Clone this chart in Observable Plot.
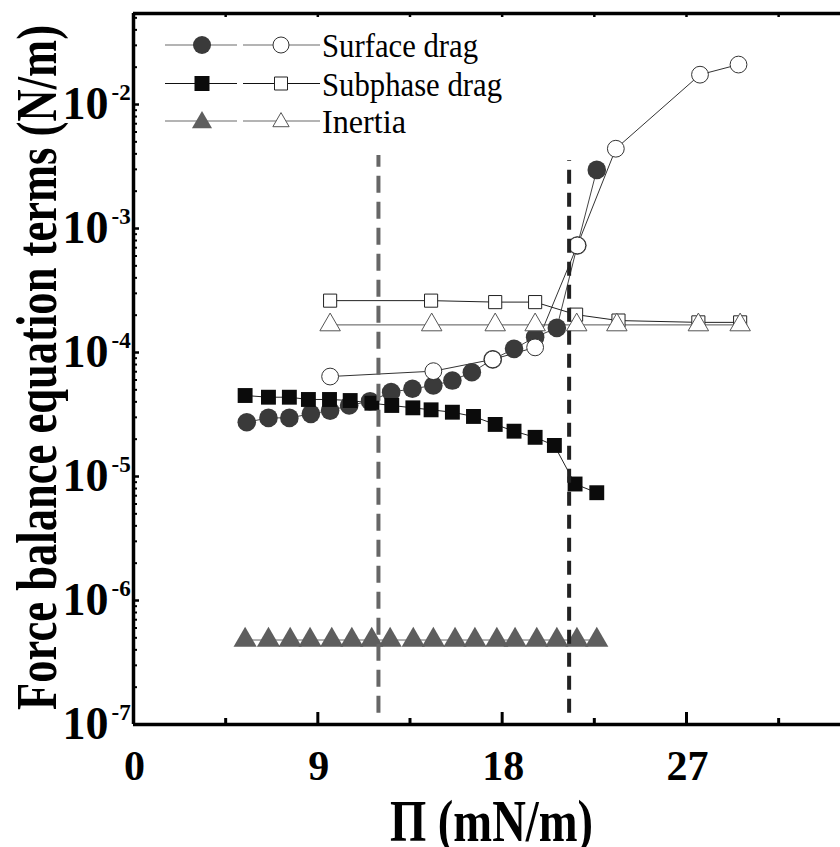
<!DOCTYPE html>
<html><head><meta charset="utf-8">
<script src="https://cdn.jsdelivr.net/npm/d3@7"></script>
<script src="https://cdn.jsdelivr.net/npm/@observablehq/plot@0.6"></script>
<style>
html,body{margin:0;padding:0;background:#fff;overflow:hidden}
#chart svg{display:block;background:#fff}
</style></head><body><div id="chart"></div>
<script>
// ---------- data ----------
const surfaceX      = [5.53,6.59,7.61,8.66,9.6,10.53,11.55,12.58,13.62,14.64,15.57,16.52,17.54,18.58,19.61,20.67,21.67,22.62];
const surfaceFilled = [2.74e-5,2.97e-5,2.97e-5,3.2e-5,3.4e-5,3.74e-5,4.05e-5,4.79e-5,5.1e-5,5.42e-5,5.94e-5,6.93e-5,8.8e-5,1.07e-4,1.33e-4,1.58e-4,7.3e-4,2.97e-3];
const surfaceOpenX  = [9.6,14.64,17.54,19.61,21.67,23.55,27.66,29.54];
const surfaceOpen   = [6.4e-5,7.07e-5,8.8e-5,1.10e-4,7.3e-4,4.4e-3,1.74e-2,2.1e-2];

const subX          = [5.45,6.59,7.61,8.54,9.57,10.58,11.64,12.61,13.64,14.53,15.57,16.6,17.66,18.58,19.61,20.55,21.56,22.62];
const subFilled     = [4.5e-5,4.36e-5,4.36e-5,4.18e-5,4.18e-5,4.1e-5,3.9e-5,3.74e-5,3.58e-5,3.45e-5,3.3e-5,3.05e-5,2.63e-5,2.32e-5,2.07e-5,1.78e-5,8.7e-6,7.4e-6];
const subOpenX      = [9.6,14.53,17.66,19.61,21.61,23.68,27.58,29.62];
const subOpen       = [2.62e-4,2.62e-4,2.55e-4,2.55e-4,2.02e-4,1.81e-4,1.75e-4,1.75e-4];

const inertiaX      = [5.45,6.59,7.65,8.62,9.68,10.66,11.63,12.53,13.66,14.64,15.70,16.67,17.74,18.63,19.69,20.67,21.65,22.62];
const inertiaFilled = [4.8e-7,4.8e-7,4.8e-7,4.8e-7,4.8e-7,4.8e-7,4.8e-7,4.8e-7,4.8e-7,4.8e-7,4.8e-7,4.8e-7,4.8e-7,4.8e-7,4.8e-7,4.8e-7,4.8e-7,4.8e-7];
const inertiaOpenX  = [9.6,14.56,17.66,19.61,21.64,23.6,27.58,29.62];
const inertiaOpen   = [1.67e-4,1.67e-4,1.67e-4,1.67e-4,1.67e-4,1.67e-4,1.67e-4,1.67e-4];

// vertical dashed transition markers
const transitionGrayX = [11.96];
const transitionBlackX = [21.27];
const transitionTop = [3.88e-3, 3.53e-3];
const transitionBottom = 1.23e-7;

// axes
const xDomain = [0, 34.52];
const yDomain = [1e-7, 0.0542];
const xTickLabels = [0, 9, 18, 27];
const xMajor = [9, 18, 27];
const xMinor = [4.5, 13.5, 22.5, 31.5];
const yDecades = [1e-7, 1e-6, 1e-5, 1e-4, 1e-3, 1e-2];
const yExponents = ["-7", "-6", "-5", "-4", "-3", "-2"];
const yMinor = [];
for (const d of [1e-7,1e-6,1e-5,1e-4,1e-3,1e-2]) for (let k = 2; k <= 9; k++) { const v = d * k; if (v < yDomain[1]) yMinor.push(v); }

const legendLabels = ["Surface drag", "Subphase drag", "Inertia"];
const xTitle = "\u03A0 (mN/m)";
const yTitle = "Force balance equation terms (N/m)";

// ---------- tables ----------
const zip = (xs, ys) => xs.map((x, i) => ({x, y: ys[i]}));
const sF = zip(surfaceX, surfaceFilled), sO = zip(surfaceOpenX, surfaceOpen);
const bF = zip(subX, subFilled), bO = zip(subOpenX, subOpen);
const iF = zip(inertiaX, inertiaFilled), iO = zip(inertiaOpenX, inertiaOpen);

const W = 840, H = 847, mL = 133, mR = 0, mT = 13, mB = 123;
const frameH = H - mT - mB, frameW = W - mL - mR;
const serif = "Liberation Serif, Times New Roman, serif";

const chart = Plot.plot({
  width: W, height: H,
  marginLeft: mL, marginRight: mR, marginTop: mT, marginBottom: mB,
  style: {background: "#fff", overflow: "visible"},
  x: {domain: xDomain, axis: null},
  y: {type: "log", domain: yDomain, axis: null},
  marks: [
    // connecting lines
    Plot.line(sF, {x: "x", y: "y", stroke: "#444", strokeWidth: 1}),
    Plot.line(sO, {x: "x", y: "y", stroke: "#333", strokeWidth: 1}),
    Plot.line(bF, {x: "x", y: "y", stroke: "#222", strokeWidth: 1}),
    Plot.line(bO, {x: "x", y: "y", stroke: "#222", strokeWidth: 1}),
    Plot.line(iF, {x: "x", y: "y", stroke: "#666", strokeWidth: 1}),
    Plot.line(iO, {x: "x", y: "y", stroke: "#555", strokeWidth: 1}),
    // filled markers
    Plot.dot(sF, {x: "x", y: "y", r: 9.3, fill: "#3a3a3a", symbol: "circle"}),
    Plot.dot(bF, {x: "x", y: "y", r: 8.4, fill: "#0b0b0b", symbol: "square"}),
    Plot.dot(iF, {x: "x", y: "y", r: 8.6, fill: "#5e5e5e", symbol: "triangle"}),
    // open markers
    Plot.dot(sO, {x: "x", y: "y", r: 8.4, fill: "#fff", stroke: "#333", strokeWidth: 1, symbol: "circle"}),
    Plot.dot(bO, {x: "x", y: "y", r: 7.4, fill: "#fff", stroke: "#222", strokeWidth: 1, symbol: "square"}),
    Plot.dot(iO, {x: "x", y: "y", r: 7.6, fill: "#fff", stroke: "#555", strokeWidth: 1, symbol: "triangle"}),
    // dashed transition lines
    Plot.ruleX(transitionGrayX, {x: d => d, y1: transitionBottom, y2: transitionTop[0], stroke: "#666", strokeWidth: 4, strokeDasharray: "17,9"}),
    Plot.ruleX(transitionBlackX, {x: d => d, y1: transitionBottom, y2: transitionTop[1], stroke: "#222", strokeWidth: 4, strokeDasharray: "14,9"}),
    // frame (left, bottom, top)
    Plot.ruleY([yDomain[0]], {stroke: "#000", strokeWidth: 3.5}),
    Plot.ruleY([yDomain[1]], {stroke: "#000", strokeWidth: 3.5}),
    Plot.ruleX([xDomain[0]], {stroke: "#000", strokeWidth: 3.5}),
    // ticks (inward)
    Plot.tickX(xMajor, {x: d => d, insetTop: frameH - 12, stroke: "#000", strokeWidth: 3}),
    Plot.tickX(xMinor, {x: d => d, insetTop: frameH - 6, stroke: "#000", strokeWidth: 3}),
    Plot.tickX(xMajor.concat(xMinor), {x: d => d, insetBottom: frameH - 4, stroke: "#000", strokeWidth: 2.5}),
    Plot.tickY(yMinor, {y: d => d, insetRight: frameW - 4, stroke: "#000", strokeWidth: 2}),
    Plot.tickY(yDecades, {y: d => d, insetRight: frameW - 6, stroke: "#000", strokeWidth: 2.5}),
    // tick labels
    Plot.text(xTickLabels, {x: d => d, frameAnchor: "bottom", dy: 42, dx: 1, text: d => String(d), fontSize: 42, fontWeight: "bold", fontFamily: serif, fill: "#000", lineAnchor: "middle", ariaLabel: "xticklabels"}),
    Plot.text(yDecades, {y: d => d, frameAnchor: "left", dx: -25, text: () => "10", textAnchor: "end", fontSize: 46, fontWeight: "bold", fontFamily: serif, fill: "#000", lineAnchor: "middle", ariaLabel: "yticklabels"}),
    Plot.text(yDecades, {y: d => d, frameAnchor: "left", dx: -22, dy: -12, text: (d, i) => yExponents[i], textAnchor: "start", fontSize: 23, fontWeight: "bold", fontFamily: serif, fill: "#000", lineAnchor: "middle", ariaLabel: "yexponents"})
  ]
});
document.getElementById("chart").appendChild(chart);

const svg = d3.select(chart);
svg.selectAll('g[aria-label="xticklabels"] text').style("letter-spacing", "-5px");
svg.selectAll('g[aria-label="yticklabels"] text').style("letter-spacing", "-3px");
svg.selectAll('g[aria-label="yexponents"] text').style("letter-spacing", "-1px");

// axis titles
svg.append("text")
  .attr("transform", "translate(56,25) rotate(-90)")
  .attr("x", -685).attr("y", 0)
  .attr("text-anchor", "start")
  .attr("font-family", serif).attr("font-weight", "bold").attr("font-size", 56)
  .attr("textLength", 685).attr("lengthAdjust", "spacingAndGlyphs")
  .attr("fill", "#000")
  .text(yTitle);
svg.append("text")
  .attr("x", 390).attr("y", 841)
  .attr("text-anchor", "start")
  .attr("font-family", serif).attr("font-weight", "bold").attr("font-size", 60)
  .attr("textLength", 203).attr("lengthAdjust", "spacingAndGlyphs")
  .attr("fill", "#000")
  .text(xTitle);

// legend
const legRows = [
  {y: 45, line: "#6a6a6a", fSym: d3.symbolCircle, fSize: Math.PI * 81, fFill: "#3a3a3a", oSym: d3.symbolCircle, oSize: Math.PI * 64, oStroke: "#333", len: 156, fy: 0, oy: 0},
  {y: 83.5, line: "#111", fSym: d3.symbolSquare, fSize: 15 * 15, fFill: "#0b0b0b", oSym: d3.symbolSquare, oSize: 13 * 13, oStroke: "#222", len: 180, fy: 0, oy: 0},
  {y: 121, line: "#6a6a6a", fSym: d3.symbolTriangle, fSize: 175, fFill: "#5e5e5e", oSym: d3.symbolTriangle, oSize: 115, oStroke: "#555", len: 84, fy: 1.5, oy: 1}
];
const leg = svg.append("g");
legRows.forEach((r, i) => {
  leg.append("line").attr("x1", 165).attr("x2", 237).attr("y1", r.y).attr("y2", r.y).attr("stroke", r.line).attr("stroke-width", 1.2);
  leg.append("line").attr("x1", 243).attr("x2", 320).attr("y1", r.y).attr("y2", r.y).attr("stroke", r.line).attr("stroke-width", 1.2);
  leg.append("path").attr("d", d3.symbol(r.fSym, r.fSize)()).attr("transform", `translate(202,${r.y + r.fy})`).attr("fill", r.fFill);
  leg.append("path").attr("d", d3.symbol(r.oSym, r.oSize)()).attr("transform", `translate(281,${r.y + r.oy})`).attr("fill", "#fff").attr("stroke", r.oStroke).attr("stroke-width", 1);
  leg.append("text").attr("x", 322).attr("y", r.y + 12)
    .attr("text-anchor", "start")
    .attr("font-family", serif).attr("font-size", 34).attr("fill", "#000")
    .attr("textLength", r.len).attr("lengthAdjust", "spacingAndGlyphs")
    .text(legendLabels[i]);
});
</script></body></html>
